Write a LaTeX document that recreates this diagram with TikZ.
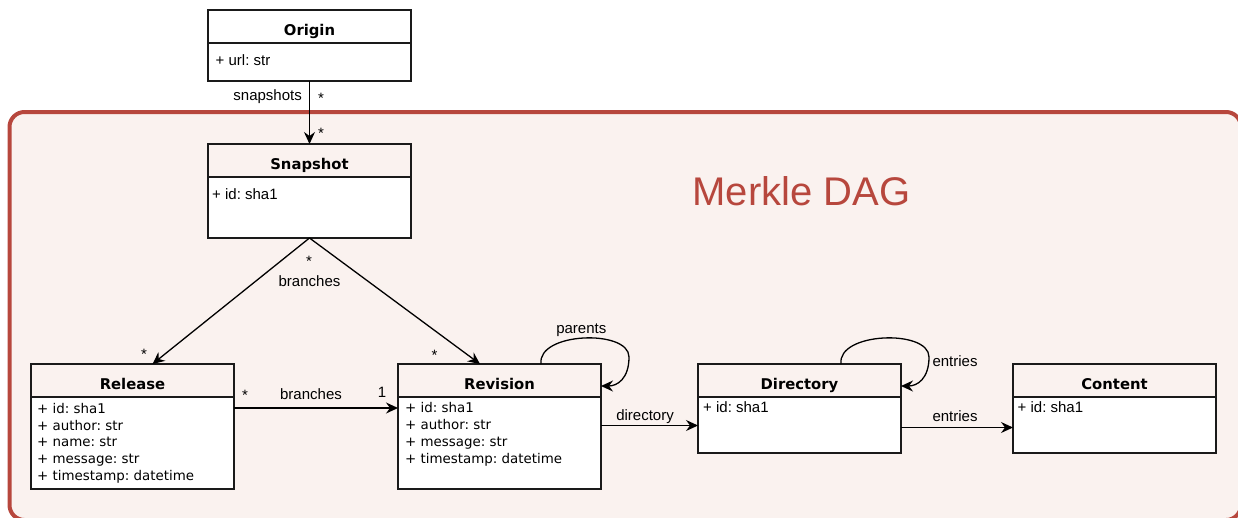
\documentclass[tikz,border=0pt]{standalone}
\usepackage{fontspec}
\setmainfont{Liberation Sans}
\newfontfamily\boxfont{DejaVu Sans}
\usetikzlibrary{positioning,arrows.meta}
\definecolor{dagred}{HTML}{B7473D}
\definecolor{dagfill}{HTML}{FAF2EF}
\definecolor{umlline}{HTML}{1A1A1A}
\frenchspacing

\begin{document}
\begin{tikzpicture}[x=1pt,y=-1pt,
  head/.style={draw=umlline,line width=1.3pt,minimum width=203pt,minimum height=33pt,
    text height=17.6pt,text depth=0pt,inner sep=0pt,outer sep=0pt,anchor=north,
    font=\boxfont\bfseries\fontsize{14.8}{17}\selectfont},
  body/.style={draw=umlline,fill=white,line width=1.3pt,minimum width=203pt,inner sep=0pt,outer sep=0pt},
  attr/.style={inner sep=0pt,anchor=base west,font=\fontsize{15}{18}\selectfont},
  attrdv/.style={attr,font=\boxfont\fontsize{13.4}{16}\selectfont},
  lbl/.style={inner sep=0pt,font=\fontsize{15}{18}\selectfont},
  assoc/.style={draw=black,line width=1.3pt,-{Stealth[length=12pt,width=11pt,inset=4pt]}}]
\useasboundingbox (0,0) rectangle (1238,517);

% merkle dag area
\draw[dagred,fill=dagfill,line width=4pt,rounded corners=15pt] (9.5,112) rectangle (1241,520);
\node[text=dagred,inner sep=0pt,anchor=base,font=\fontsize{40}{48}\selectfont] (title) at (801.5,205.5) {Merkle DAG};

% classes
\foreach \n/\t/\x/\y/\h in {orig/Origin/309.5/10/38, snap/Snapshot/309.5/144/61,
  rel/Release/132.5/364/92, rev/Revision/499.5/364/92,
  dir/Directory/799.5/364/56, cont/Content/1114.5/364/56}{
  \node[head] (\n) at (\x,\y) {\t};
  \node[body,minimum height=\h pt,below=0pt of \n] (\n-b) {};
}

\node[attr] (orig-a1) at ([shift={(7.5pt,-22pt)}]orig-b.north west) {+ url: str};
\node[attr] (snap-a1) at ([shift={(4pt,-22pt)}]snap-b.north west) {+ id: sha1};
\foreach \a [count=\i, evaluate=\i as \dy using 16.3+16.7*(\i-1)] in
  {id: sha1, author: str, name: str, message: str, timestamp: datetime}
  \node[attrdv] (rel-a\i) at ([shift={(6pt,-\dy pt)}]rel-b.north west) {+ \a};
\foreach \a [count=\i, evaluate=\i as \dy using 15.9+16.7*(\i-1)] in
  {id: sha1, author: str, message: str, timestamp: datetime}
  \node[attrdv] (rev-a\i) at ([shift={(7pt,-\dy pt)}]rev-b.north west) {+ \a};
\node[attr] (dir-a1) at ([shift={(5pt,-15.7pt)}]dir-b.north west) {+ id: sha1};
\node[attr] (cont-a1) at ([shift={(4.5pt,-15.7pt)}]cont-b.north west) {+ id: sha1};

% associations
\draw[assoc] (orig-b) -- (snap);
\draw[assoc] (snap-b.south) -- ([xshift=20pt]rel.north);
\draw[assoc] (snap-b.south) -- ([xshift=-19.5pt]rev.north);
\draw[assoc] ([yshift=-11pt]rel-b.north east) -- ([yshift=-11pt]rev-b.north west);
\draw[assoc] ([yshift=-28.5pt]rev-b.north east) -- ([yshift=-28.5pt]dir-b.north west);
\draw[assoc] ([yshift=-30.5pt]dir-b.north east) -- ([yshift=-30.5pt]cont-b.north west);
\foreach \n in {rev,dir}{
  \coordinate (\n-loop) at ([shift={(28pt,7pt)}]\n.north east);
  \draw[assoc] ([xshift=41.5pt]\n.north) .. controls +(-4pt,32pt) and +(0pt,28pt) .. (\n-loop)
    .. controls +(0pt,-22pt) and +(16pt,0pt) .. ([yshift=-5.5pt]\n.east);
}

% labels
\node[lbl,anchor=base east] (snaps-l) at (302,100.5) {snapshots};
\node[lbl] (snaps-m1) at (321,98.5) {*};
\node[lbl] (snaps-m2) at (321,133.5) {*};
\node[lbl] (br-m) at (309,261.5) {*};
\node[lbl,anchor=base] (br-l) at (309.5,286.7) {branches};
\node[lbl] (br-m1) at (144,354.7) {*};
\node[lbl] (br-m2) at (434.5,355.5) {*};
\node[lbl] (relbr-m1) at (245,395.7) {*};
\node[lbl,anchor=base] (relbr-l) at (311,399) {branches};
\node[lbl,anchor=base] (relbr-m2) at (382,397.3) {1};
\node[lbl,anchor=base] (par-l) at (581.3,333.3) {parents};
\node[lbl,anchor=base] (dirl-l) at (645,420.7) {directory};
\node[lbl,anchor=base] (ent-l1) at (955,366.7) {entries};
\node[lbl,anchor=base] (ent-l2) at (955,421.7) {entries};
\end{tikzpicture}
\end{document}
